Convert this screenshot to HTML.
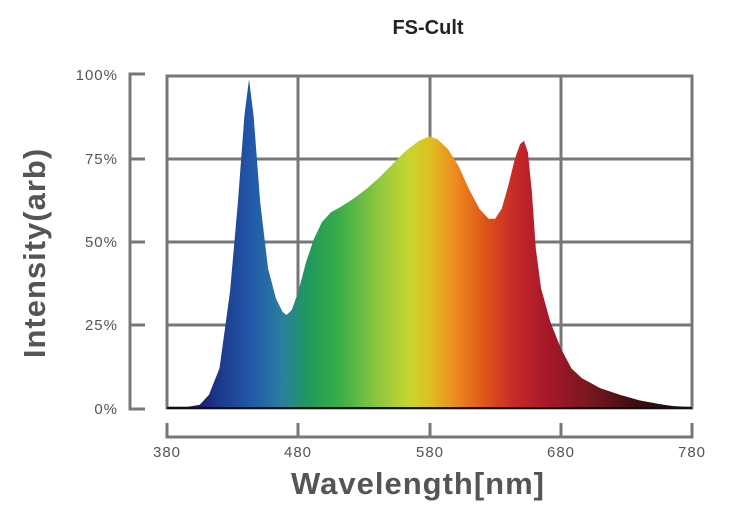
<!DOCTYPE html>
<html><head><style>body{margin:0;background:#fff}svg{display:block}</style></head><body>
<svg width="740" height="520" xmlns="http://www.w3.org/2000/svg" font-family="Liberation Sans, sans-serif">
<defs>
<linearGradient id="g" gradientUnits="userSpaceOnUse" x1="167" y1="0" x2="692" y2="0">
<stop offset="0" stop-color="#111"/>
<stop offset="0.06" stop-color="#1a1a6a"/>
<stop offset="0.1" stop-color="#1c3a8c"/>
<stop offset="0.16" stop-color="#2157a8"/>
<stop offset="0.22" stop-color="#2a7fa0"/>
<stop offset="0.27" stop-color="#1f9a5a"/>
<stop offset="0.33" stop-color="#3aae48"/>
<stop offset="0.40" stop-color="#8cc63f"/>
<stop offset="0.46" stop-color="#c6d630"/>
<stop offset="0.50" stop-color="#e0c020"/>
<stop offset="0.55" stop-color="#ec8a1f"/>
<stop offset="0.60" stop-color="#e05a18"/>
<stop offset="0.66" stop-color="#c82a28"/>
<stop offset="0.72" stop-color="#a8182a"/>
<stop offset="0.80" stop-color="#7a1820"/>
<stop offset="0.90" stop-color="#3a0c10"/>
<stop offset="1" stop-color="#111"/>
</linearGradient>
</defs>
<text x="428" y="34" text-anchor="middle" font-size="20" font-weight="bold" fill="#222">FS-Cult</text>
<g stroke="#777" stroke-width="3" fill="none">
<rect x="167" y="76" width="525" height="332"/>
<line x1="167" y1="159" x2="692" y2="159"/>
<line x1="167" y1="242" x2="692" y2="242"/>
<line x1="167" y1="325" x2="692" y2="325"/>
<line x1="298" y1="76" x2="298" y2="408"/>
<line x1="430" y1="76" x2="430" y2="408"/>
<line x1="561" y1="76" x2="561" y2="408"/>
<polyline points="145,74 130,74 130,409 145,409"/>
<line x1="130" y1="159" x2="145" y2="159"/>
<line x1="130" y1="242" x2="145" y2="242"/>
<line x1="130" y1="325" x2="145" y2="325"/>
<polyline points="167,423 167,437 692,437 692,423"/>
<line x1="298" y1="423" x2="298" y2="437"/>
<line x1="430" y1="423" x2="430" y2="437"/>
<line x1="561" y1="423" x2="561" y2="437"/>
</g>
<path id="sp" fill="url(#g)" d=""/>
<line x1="167" y1="408" x2="692" y2="408" stroke="#111" stroke-width="2"/>
<g font-size="15" fill="#555" text-anchor="end" letter-spacing="1">
<text x="118" y="80">100%</text><text x="118" y="164">75%</text><text x="118" y="247">50%</text><text x="118" y="330">25%</text><text x="118" y="414">0%</text>
</g>
<g font-size="15" fill="#555" text-anchor="middle" letter-spacing="1">
<text x="167" y="457">380</text><text x="298" y="457">480</text><text x="430" y="457">580</text><text x="561" y="457">680</text><text x="692" y="457">780</text>
</g>
<text x="418" y="494" text-anchor="middle" font-size="31" font-weight="bold" fill="#555" letter-spacing="1">Wavelength[nm]</text>
<text transform="translate(45,253) rotate(-90)" text-anchor="middle" font-size="31" font-weight="bold" fill="#555" letter-spacing="1">Intensity(arb)</text>
<script>
var p=[[380,0],[395,0.3],[405,1],[412,4],[420,12],[428,35],[434,62],[439,88],[442.5,99],[446,88],[451,62],[457,42],[463,33],[468,29],[471,28],[475,29.5],[480,35],[486,44],[492,51],[498,56],[505,59],[512,60.5],[522,63],[532,66],[542,69.5],[552,73.5],[562,77.5],[572,80.5],[580,81.8],[586,81],[594,78],[602,73],[610,66],[618,60],[625,57],[630,57],[635,60],[640,67],[645,75],[649,79.5],[652,80.5],[655,77],[658,65],[661,48],[665,36],[672,26],[680,18],[688,12],[696,9],[710,6],[725,4],[740,2.3],[755,1.2],[765,0.6],[780,0.2]];
var d="M167,408";p.forEach(function(q){d+=" L"+(167+(q[0]-380)*1.3125).toFixed(1)+","+(408-q[1]*3.32).toFixed(1)});d+=" L692,408 Z";
document.getElementById("sp").setAttribute("d",d);
</script>
</svg>
</body></html>
